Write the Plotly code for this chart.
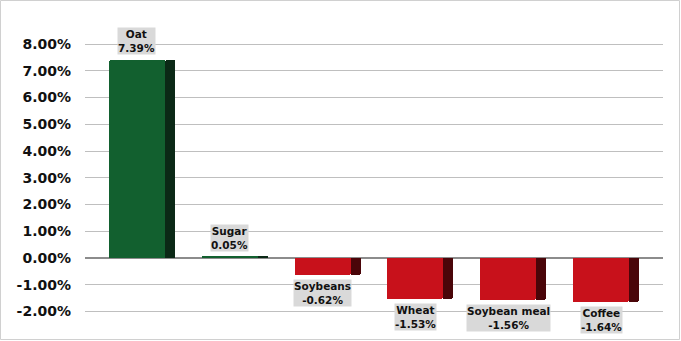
import plotly.graph_objects as go

categories = ["Oat", "Sugar", "Soybeans", "Wheat", "Soybean meal", "Coffee"]
values = [7.39, 0.05, -0.62, -1.53, -1.56, -1.64]
tick_vals = [-2, -1, 0, 1, 2, 3, 4, 5, 6, 7, 8]

W, H = 681, 341
L, R, T, B = 85, 18, 39, 24
PX_PER_CAT = 93.0

front_col = ["#12602F" if v >= 0 else "#C8111B" for v in values]
side_col = ["#0B2916" if v >= 0 else "#4A0509" for v in values]

x = list(range(len(categories)))

fig = go.Figure()
# front face
fig.add_trace(go.Bar(
    x=x, y=values, width=56 / PX_PER_CAT, offset=-33 / PX_PER_CAT,
    marker=dict(color=front_col, line=dict(width=0), cornerradius=2),
    hoverinfo="skip", showlegend=False))
# side face
fig.add_trace(go.Bar(
    x=x, y=values, width=10 / PX_PER_CAT, offset=23 / PX_PER_CAT,
    marker=dict(color=side_col, line=dict(width=0), cornerradius=2),
    hoverinfo="skip", showlegend=False))

for i, (c, v) in enumerate(zip(categories, values)):
    pos = v >= 0
    fig.add_annotation(
        x=i - 5 / PX_PER_CAT, y=v, xref="x", yref="y",
        text=f"{c}<br>{v:.2f}%", showarrow=False,
        yanchor="bottom" if pos else "top",
        yshift=5 if pos else -4,
        bgcolor="#D9D9D9", borderpad=0,
        font=dict(family="DejaVu Sans", size=10.5, color="#111111", weight="bold"),
        align="center")

plot_h = H - T - B
per_unit = 26.75
ytop = 8 + (44 - T) / per_unit
ybot = ytop - plot_h / per_unit

fig.update_layout(
    width=W, height=H,
    margin=dict(l=L, r=R, t=T, b=B, pad=0),
    paper_bgcolor="white", plot_bgcolor="white",
    barmode="overlay",
    bargap=0,
    xaxis=dict(range=[-0.61, 5.61], showticklabels=False, showgrid=False,
               zeroline=False, ticks="", showline=False, fixedrange=True),
    yaxis=dict(range=[ybot, ytop], tickvals=tick_vals,
               ticktext=[f"{t:.2f}%" for t in tick_vals],
               showgrid=True, gridcolor="#BFBFBF", gridwidth=1,
               zeroline=True, zerolinecolor="#8C8C8C", zerolinewidth=1.5,
               ticks="", ticklabelstandoff=13,
               tickfont=dict(family="DejaVu Sans", size=14, color="#111111", weight="bold"),
               showline=False, fixedrange=True),
    showlegend=False,
)

pw = W - L - R
fig.add_shape(type="rect", xref="paper", yref="paper",
              x0=(0.5 - L) / pw, x1=(W - 1.5 - L) / pw,
              y0=-(B - 1.5) / plot_h, y1=1 + (T - 0.5) / plot_h,
              line=dict(color="#D0D0D0", width=1), fillcolor="rgba(0,0,0,0)",
              layer="below")

fig.write_html("out.html")
